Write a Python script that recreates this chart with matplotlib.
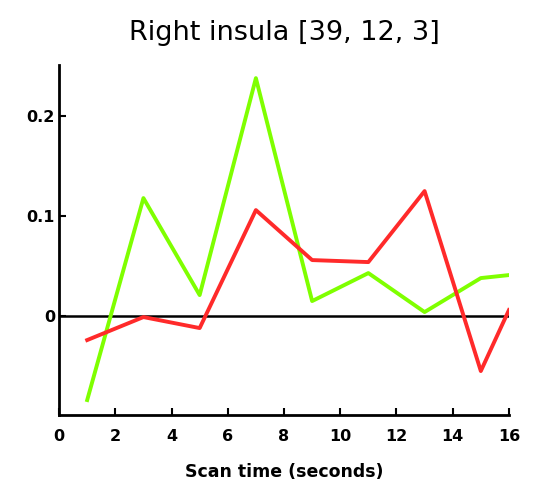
import matplotlib
matplotlib.use("Agg")
import matplotlib.pyplot as plt

TIME = [1, 3, 5, 7, 9, 11, 13, 15, 16]
GREEN = [-0.084, 0.118, 0.021, 0.238, 0.015, 0.043, 0.004, 0.038, 0.041]
RED = [-0.024, -0.001, -0.012, 0.106, 0.056, 0.054, 0.125, -0.055, 0.006]
XTICKS = [0, 2, 4, 6, 8, 10, 12, 14, 16]
YTICKS = [0, 0.1, 0.2]
YTICK_LABELS = ["0", "0.1", "0.2"]

plt.rcParams["font.family"] = ["DejaVu Sans"]

fig = plt.figure(figsize=(5.42, 4.86), dpi=100)
ax = fig.add_axes([0.109, 0.146, 0.830, 0.720])

ax.axhline(0, color="black", linewidth=1.8, zorder=1)
ax.plot(TIME, GREEN, color="#7fff00", linewidth=2.8, zorder=2)
ax.plot(TIME, RED, color="#ff2a2a", linewidth=2.8, zorder=3)

ax.set_xlim(0, 16)
ax.set_ylim(-0.099, 0.251)
ax.set_xticks(XTICKS)
ax.set_yticks(YTICKS)
ax.set_yticklabels(YTICK_LABELS)

for side in ("top", "right"):
    ax.spines[side].set_visible(False)
for side in ("left", "bottom"):
    ax.spines[side].set_linewidth(2)

ax.tick_params(direction="in", length=5, width=1.5, labelsize=11.5)
ax.tick_params(axis="x", pad=10)
ax.tick_params(axis="y", pad=3)
for lbl in ax.get_xticklabels() + ax.get_yticklabels():
    lbl.set_fontweight("bold")

ax.set_xlabel("Scan time (seconds)", fontsize=12.5, fontweight="bold", labelpad=14)
ax.set_title("Right insula [39, 12, 3]", fontsize=19.5, pad=18)

fig.savefig("out.png", dpi=100)
